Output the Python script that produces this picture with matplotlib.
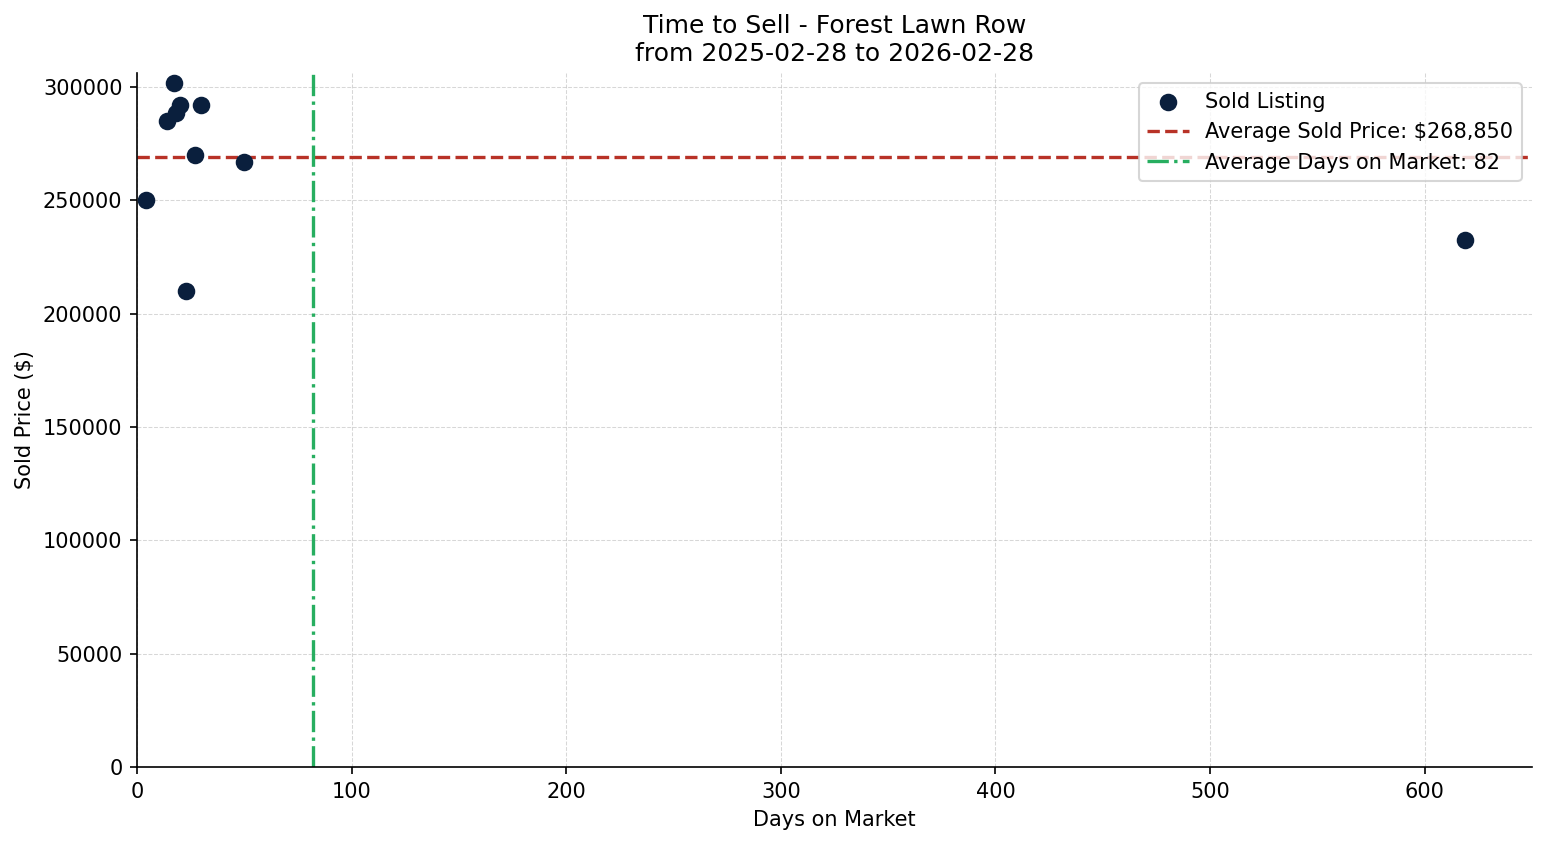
import matplotlib
matplotlib.use('Agg')
import matplotlib.pyplot as plt

# days on market / sold price for each listing
days = [17, 20, 30, 18, 14, 27, 50, 4, 23, 619]
prices = [301500, 292000, 292000, 288500, 285000, 270000, 267000, 250000, 210000, 232500]

avg_price = sum(prices) / len(prices)
avg_days = round(sum(days) / len(days))

fig, ax = plt.subplots(figsize=(1547 / 150, 845 / 150), dpi=150)
fig.subplots_adjust(left=0.0886, right=0.9903, top=0.9136, bottom=0.0923)

ax.scatter(days, prices, s=55, color='#0a1f3d', label='Sold Listing', zorder=3)
ax.axhline(avg_price, color='#b83227', linestyle='--', linewidth=1.6,
           label=f'Average Sold Price: ${avg_price:,.0f}')
ax.axvline(avg_days, color='#27ae60', linestyle='-.', linewidth=1.6,
           label=f'Average Days on Market: {avg_days}')

ax.set_xlim(0, 650)
ax.set_ylim(bottom=0)
ax.set_title('Time to Sell - Forest Lawn Row\nfrom 2025-02-28 to 2026-02-28', fontsize=12)
ax.set_xlabel('Days on Market')
ax.set_ylabel('Sold Price ($)')
ax.grid(True, linestyle='--', linewidth=0.5, alpha=0.5)
ax.spines['top'].set_visible(False)
ax.spines['right'].set_visible(False)
ax.legend(loc='upper right')

fig.savefig('out.png', dpi=150)
